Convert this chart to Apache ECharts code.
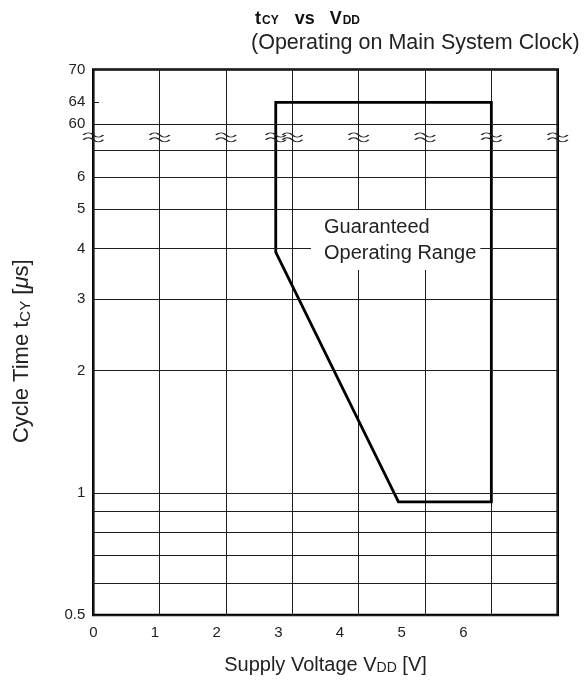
<!DOCTYPE html>
<html><head><meta charset="utf-8">
<script src="https://cdn.jsdelivr.net/npm/echarts@6/dist/echarts.min.js"></script>
<style>html,body{margin:0;padding:0;background:#fff}#c{width:586px;height:681px}</style>
</head><body><div id="c"></div>
<script>
// ---------------- data ----------------
const xGridValues = [0, 1, 2, 3, 4, 5, 6, 7];
const xTickLabels = ['0', '1', '2', '3', '4', '5', '6'];
const yLowGridValues = [0.5, 0.6, 0.7, 0.8, 0.9, 1, 2, 3, 4, 5, 6, 7];
const yLowTickValues = [0.5, 1, 2, 3, 4, 5, 6];
const yLowTickLabels = ['0.5', '1', '2', '3', '4', '5', '6'];
const yHighGridValues = [60, 70];
const yHighTickValues = [60, 64, 70];
const yHighTickLabels = ['60', '64', '70'];
const rangeVdd = [2.75, 2.75, 4.6, 6.0, 6.0];
const rangeTcy = [64, 3.92, 0.95, 0.95, 64];
const annotationLines = ['Guaranteed', 'Operating Range'];

// ---------------- layout ----------------
const L = 93.3, R = 586 - 557.7, TOP = 69.5, BRK = 150, BOT = 615;
const lowMin = 0.5, lowMax = 7, highMin = 55.3, highMax = 70, breakMarkY = 57.6;
const xLabelAxisMax = 7.53;   // tick labels are spaced tighter than grid lines in the original
const tickLen = 0.086;        // short "64" tick inside frame (x units)
const FONT = 'Liberation Sans';
const TXT = '#222';
const LINE = '#1e1e1e';
const WAVE = 'path://M0,3.5 C3,0 7,0 10,3.5 C13,7 17,7 20,3.5 M0,9.5 C3,6 7,6 10,9.5 C13,13 17,13 20,9.5';

const pts = rangeVdd.map((x, i) => [x, rangeTcy[i]]);
const up = pts.filter(p => p[1] > lowMax);
const lo = pts.filter(p => p[1] <= lowMax);
const upperData = [[up[0][0], highMin], ...up, [up[up.length - 1][0], highMin]];
const lowerData = [[up[0][0], lowMax], ...lo, [up[up.length - 1][0], lowMax]];
const breakX = Array.from(new Set([...xGridValues, ...up.map(p => p[0])])).sort((a, b) => a - b);

const mlLabel = {position: 'start', distance: 8, color: TXT, fontSize: 15, fontFamily: FONT};

const lowMarks = yLowGridValues.map(v => {
  const i = yLowTickValues.indexOf(v);
  return {yAxis: v, label: Object.assign({}, mlLabel, {show: i >= 0, formatter: i >= 0 ? yLowTickLabels[i] : ''})};
});
const highMarks = [];
yHighTickValues.forEach((v, i) => {
  if (yHighGridValues.indexOf(v) >= 0) {
    highMarks.push({yAxis: v, label: Object.assign({}, mlLabel, {show: true, formatter: yHighTickLabels[i]})});
  } else {
    highMarks.push([{coord: [0, v], label: Object.assign({}, mlLabel, {show: true, formatter: yHighTickLabels[i]})}, {coord: [tickLen, v]}]);
  }
});

const hiddenAxisParts = {axisLine: {show: false}, axisTick: {show: false}, axisLabel: {show: false}};
const splitStyle = {show: true, lineStyle: {color: LINE, width: 1, type: 'solid'}};

const richSmall = {fontFamily: FONT, fontSize: 14, color: TXT, verticalAlign: 'bottom', lineHeight: 22};
const richNorm = {fontFamily: FONT, fontSize: 20, color: TXT, verticalAlign: 'bottom', lineHeight: 22};
const richSmallY = Object.assign({}, richSmall, {fontSize: 15, lineHeight: 24});
const richNormY = Object.assign({}, richNorm, {fontSize: 22, lineHeight: 24});

const option = {
  animation: false,
  backgroundColor: '#fff',
  textStyle: {fontFamily: FONT},
  title: [
    {
      text: '{b|t}{s|CY}{b|   vs   V}{s|DD}',
      left: 250, top: 3,
      textStyle: {rich: {
        b: {fontFamily: FONT, fontWeight: 'bold', fontSize: 18, color: '#111', verticalAlign: 'bottom', lineHeight: 20},
        s: {fontFamily: FONT, fontWeight: 'bold', fontSize: 12, color: '#111', verticalAlign: 'bottom', lineHeight: 20, padding: [0, 1, 1, 1]}
      }}
    },
    {
      text: '(Operating on Main System Clock)',
      left: 246, top: 27,
      textStyle: {fontFamily: FONT, fontWeight: 'normal', fontSize: 21.5, color: TXT}
    }
  ],
  grid: [
    {left: L, right: R, top: TOP, height: BRK - TOP, containLabel: false, outerBoundsMode: 'none'},
    {left: L, right: R, top: BRK, height: BOT - BRK, containLabel: false, outerBoundsMode: 'none'},
    {left: L, right: R, top: TOP, height: BOT - TOP, containLabel: false, outerBoundsMode: 'none',
     show: true, borderColor: '#000', borderWidth: 2.6, backgroundColor: 'transparent'}
  ],
  xAxis: [
    Object.assign({gridIndex: 0, type: 'value', min: 0, max: 7, interval: 1, splitLine: splitStyle}, hiddenAxisParts),
    Object.assign({gridIndex: 1, type: 'value', min: 0, max: 7, interval: 1, splitLine: splitStyle}, hiddenAxisParts),
    {
      gridIndex: 2, type: 'value', min: 0, max: xLabelAxisMax, interval: 1, position: 'bottom',
      axisLine: {show: false}, axisTick: {show: false}, splitLine: {show: false},
      axisLabel: {
        show: true, margin: 10, color: TXT, fontSize: 15, fontFamily: FONT,
        formatter: v => {
          const i = Math.round(v);
          return (Math.abs(v - i) < 1e-6 && i < xTickLabels.length) ? xTickLabels[i] : '';
        }
      },
      name: '{n|Supply Voltage V}{s|DD}{n| [V]}',
      nameLocation: 'middle', nameGap: 38,
      nameTextStyle: {rich: {n: richNorm, s: richSmall}}
    }
  ],
  yAxis: [
    {gridIndex: 0, type: 'value', min: highMin, max: highMax, show: false},
    {gridIndex: 1, type: 'log', logBase: 10, min: lowMin, max: lowMax, show: false},
    {
      gridIndex: 2, type: 'value', min: 0, max: 1, show: true,
      axisLine: {show: false}, axisTick: {show: false}, axisLabel: {show: false}, splitLine: {show: false},
      name: '{n|Cycle Time t}{s|CY}{n| [}{i|μ}{n|s]}',
      nameLocation: 'middle', nameGap: 60, nameRotate: 90,
      nameTextStyle: {padding: [0, 18, 0, 0], rich: {n: richNormY, s: richSmallY,
        i: Object.assign({}, richNormY, {fontStyle: 'italic'})}}
    }
  ],
  series: [
    {
      type: 'line', xAxisIndex: 0, yAxisIndex: 0, data: upperData, symbol: 'none', silent: true,
      lineStyle: {color: '#000', width: 2.8, join: 'miter', cap: 'butt'}, z: 4,
      markLine: {silent: true, symbol: ['none', 'none'], lineStyle: {color: LINE, width: 1, type: 'solid'}, data: highMarks}
    },
    {
      type: 'line', xAxisIndex: 1, yAxisIndex: 1, data: lowerData, symbol: 'none', silent: true,
      lineStyle: {color: '#000', width: 2.8, join: 'miter', cap: 'butt'}, z: 4,
      markLine: {silent: true, symbol: ['none', 'none'], lineStyle: {color: LINE, width: 1, type: 'solid'}, data: lowMarks}
    },
    {
      type: 'scatter', xAxisIndex: 0, yAxisIndex: 0, silent: true, z: 6, clip: false,
      data: breakX.map(x => [x, breakMarkY]),
      symbol: WAVE, symbolSize: [20, 9], symbolKeepAspect: false,
      itemStyle: {color: 'rgba(0,0,0,0)', borderColor: '#222', borderWidth: 1.3, opacity: 1}
    }
  ],
  graphic: [
    {
      type: 'text', left: 311, top: 210, z: 20,
      style: {
        text: annotationLines.join('\n'), fontFamily: FONT, fontSize: 20, fill: TXT,
        backgroundColor: '#fff', padding: [4, 4, 4, 13], lineHeight: 26
      }
    }
  ]
};

const chart = echarts.init(document.getElementById('c'), null, {renderer: 'canvas'});
chart.setOption(option);
</script></body></html>
